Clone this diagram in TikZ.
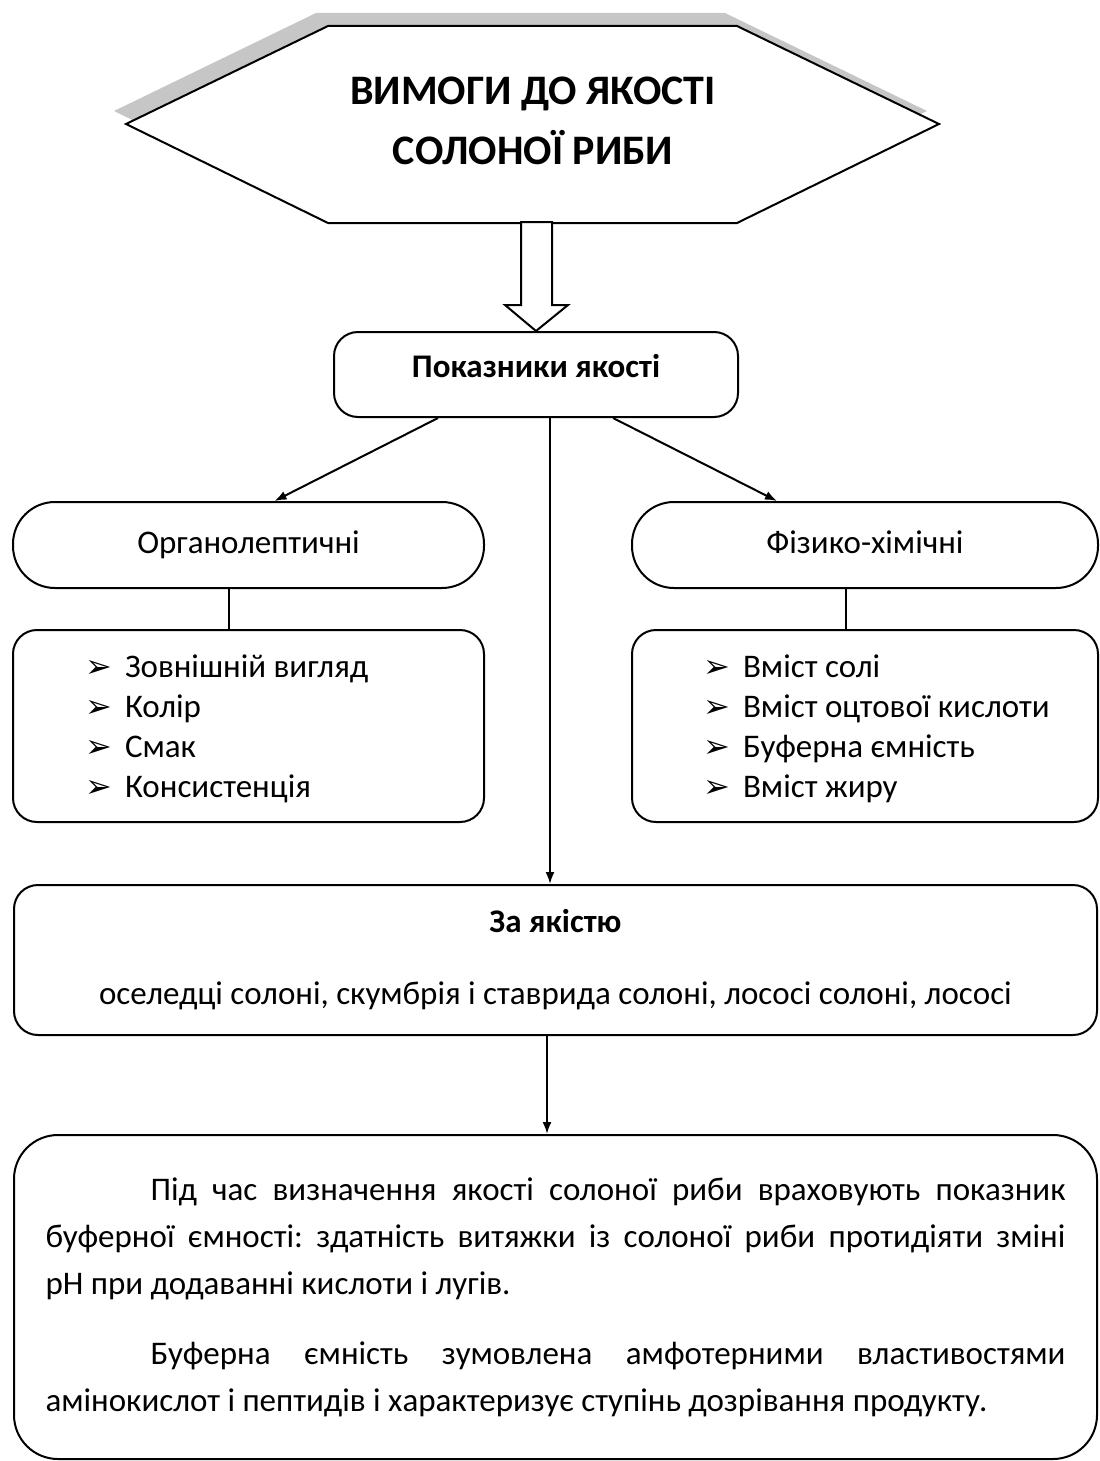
\documentclass[tikz,border=0pt]{standalone}
\usepackage{fontspec}
\setmainfont{Carlito}
\newfontfamily\dingfont{DejaVu Sans}
\usetikzlibrary{arrows.meta}
\frenchspacing

\newcommand{\itemmark}{\makebox[20pt][l]{\dingfont\fontsize{16}{16}\selectfont ➢}}

\begin{document}
\begin{tikzpicture}[x=0.5pt,y=-0.5pt,line width=1pt,>={Latex[length=6pt,width=4.5pt]}]
        \tikzstyle{every node}=[font=\fontsize{16.5}{20}\selectfont]
        \tikzstyle{roundbox}=[draw,fill=white,line width=1pt,rounded corners=12pt,inner sep=0pt]
        \tikzstyle{pillbox}=[roundbox,rounded corners=21pt,minimum height=43pt,text height=11.5pt,text depth=3.5pt]
        \tikzstyle{listbox}=[roundbox,minimum height=96pt]
        \tikzstyle{listtext}=[anchor=west,align=left,inner sep=0pt]
        \useasboundingbox (0,0) rectangle (1099,1461);
        % heading with its shadow
        \fill[gray!45] (114,111) -- (316,13) -- (725,13) -- (927,111) -- (725,210) -- (316,210) -- cycle;
        \draw[fill=white] (126,124) -- (328,26) -- (737,26) -- (939,124) -- (737,223) -- (328,223) -- cycle;
        \node[align=center,font=\fontsize{21}{30}\selectfont\bfseries] (title) at (533,121)
            {ВИМОГИ ДО ЯКОСТІ\\СОЛОНОЇ РИБИ};
        \node[roundbox,minimum width=202pt,minimum height=42.5pt,text depth=9pt,font=\fontsize{16.5}{20}\selectfont\bfseries] (pokaz) at (536,374.5) {Показники якості};
        % block arrow
        \draw[fill=white] (pokaz.north) -- ++(32,-26) -- ++(-16,0) -- ++(0,-83) -- ++(-31,0) -- ++(0,83) -- ++(-16,0) -- cycle;
        % two groups
        \node[pillbox,minimum width=235.5pt] (org) at (248.5,545) {Органолептичні};
        \node[pillbox,minimum width=233pt] (fiz) at (865,545) {Фізико-хімічні};
        \node[listbox,minimum width=235.5pt] (orglist) at (248.5,726) {};
        \node[listbox,minimum width=233pt] (fizlist) at (865,726) {};
        \node[listtext] (orgitems) at (84,729) {\itemmark Зовнішній вигляд\\\itemmark Колір\\\itemmark Смак\\\itemmark Консистенція};
        \node[listtext] (fizitems) at (702,729) {\itemmark Вміст солі\\\itemmark Вміст оцтової кислоти\\\itemmark Буферна ємність\\\itemmark Вміст жиру};
        \draw ([xshift=-10pt]org.south) -- ([xshift=-10pt]orglist.north);
        \draw ([xshift=-9.5pt]fiz.south) -- ([xshift=-9.5pt]fizlist.north);
        % quality
        \node[roundbox,minimum width=541.5pt,minimum height=75pt,align=center] (zayakist) at (555.5,960)
            {{\bfseries За якістю}\\[16pt]оселедці солоні, скумбрія і ставрида солоні, лососі солоні, лососі};
        \node[roundbox,rounded corners=22pt,minimum width=541.5pt,minimum height=162pt,text width=510pt,align=justify,
            font=\fontsize{16.5}{23.5}\selectfont] (note) at (555.5,1297)
            {\hspace*{52.5pt}Під час визначення якості солоної риби враховують показник\linebreak
             буферної ємності: здатність витяжки із солоної риби протидіяти зміні\linebreak
             pH при додаванні кислоти і лугів.\par\vspace{11.5pt}
             \hspace*{52.5pt}Буферна ємність зумовлена амфотерними властивостями\linebreak
             амінокислот і пептидів і характеризує ступінь дозрівання продукту.\par\vspace{16pt}};
        % connectors
        \draw[->] ([xshift=-49pt]pokaz.south) -- ([xshift=13pt]org.north);
        \draw[->] ([xshift=38.5pt]pokaz.south) -- ([xshift=-44pt]fiz.north);
        \draw[->] ([xshift=7pt]pokaz.south) -- ([xshift=7pt]pokaz.south |- zayakist.north);
        \draw[->] ([xshift=-4.25pt]zayakist.south) -- ([xshift=-4.25pt]zayakist.south |- note.north);
\end{tikzpicture}
\end{document}
